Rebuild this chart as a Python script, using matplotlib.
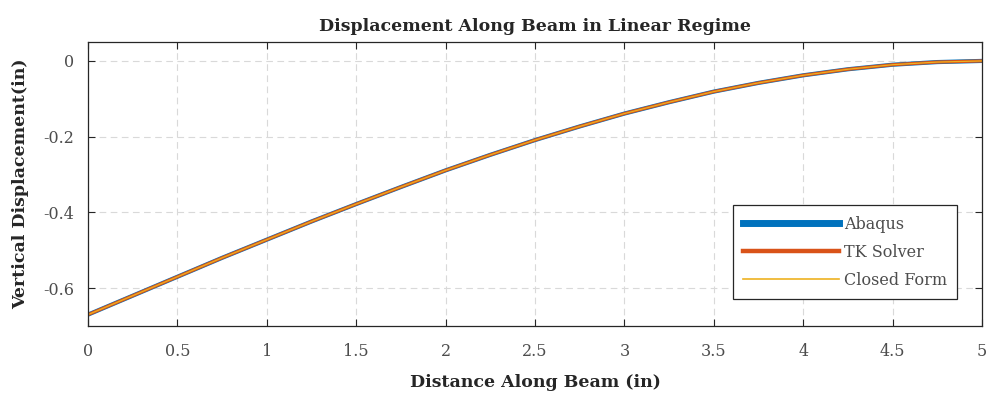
import numpy as np
import matplotlib
matplotlib.use("Agg")
import matplotlib.pyplot as plt

# distance along beam (in)
x = [0, 0.25, 0.5, 0.75, 1, 1.25, 1.5, 1.75, 2, 2.25, 2.5,
     2.75, 3, 3.25, 3.5, 3.75, 4, 4.25, 4.5, 4.75, 5]

# vertical displacement (in)
abaqus = [-0.670, -0.620, -0.570, -0.520, -0.472, -0.424, -0.378, -0.333,
          -0.289, -0.248, -0.209, -0.173, -0.139, -0.109, -0.081, -0.058,
          -0.038, -0.022, -0.010, -0.003, 0.000]
tk_solver = [-0.670, -0.620, -0.570, -0.520, -0.472, -0.424, -0.378, -0.333,
             -0.289, -0.248, -0.209, -0.173, -0.139, -0.109, -0.081, -0.058,
             -0.038, -0.022, -0.010, -0.003, 0.000]
closed_form = [-0.670, -0.620, -0.570, -0.520, -0.472, -0.424, -0.378, -0.333,
               -0.289, -0.248, -0.209, -0.173, -0.139, -0.109, -0.081, -0.058,
               -0.038, -0.022, -0.010, -0.003, 0.000]

xticks = [0, 0.5, 1, 1.5, 2, 2.5, 3, 3.5, 4, 4.5, 5]
xticklabels = ["0", "0.5", "1", "1.5", "2", "2.5", "3", "3.5", "4", "4.5", "5"]
yticks = [-0.6, -0.4, -0.2, 0]
yticklabels = ["-0.6", "-0.4", "-0.2", "0"]

plt.rcParams['font.family'] = ['DejaVu Serif']

fig = plt.figure(figsize=(9.97, 4.03), dpi=100)
ax = fig.add_axes([88/997, 1 - 326/403, (982-88)/997, (326-42)/403])

ax.plot(x, abaqus, color="#0072BD", lw=3.0, label="Abaqus")
ax.plot(x, tk_solver, color="#D95319", lw=2.3, label="TK Solver")
ax.plot(x, closed_form, color="#EDB120", lw=0.9, label="Closed Form")

ax.set_xlim(0, 5)
ax.set_ylim(-0.7, 0.05)
ax.set_xticks(xticks)
ax.set_xticklabels(xticklabels)
ax.set_yticks(yticks)
ax.set_yticklabels(yticklabels)

ax.grid(True, ls=(0, (6, 4)), color="#d9d9d9", lw=0.8)
ax.tick_params(direction="in", top=True, right=True, length=5, width=0.8,
               labelsize=11.5, colors="#262626", labelcolor="#4d4d4d")
ax.tick_params(axis="x", pad=12)
ax.tick_params(axis="y", pad=10)
for s in ax.spines.values():
    s.set_color("#262626")
    s.set_linewidth(0.9)

ax.set_title("Displacement Along Beam in Linear Regime", fontsize=12.5,
             fontweight="bold", color="#262626", pad=8)
ax.set_xlabel("Distance Along Beam (in)", fontsize=12.5, fontweight="bold",
              color="#262626", labelpad=10)
ax.set_ylabel("Vertical Displacement(in)", fontsize=12.5, fontweight="bold",
              color="#262626", labelpad=10)

leg = ax.legend(loc="lower right", bbox_to_anchor=(0.9815, 0.066),
                fancybox=False, framealpha=1, edgecolor="#262626",
                fontsize=11.5, handlelength=6.0, borderpad=0.65,
                labelspacing=0.7, handletextpad=0.3)
leg.get_frame().set_linewidth(0.9)
for t in leg.get_texts():
    t.set_color("#4d4d4d")
leg.get_lines()[0].set_linewidth(5)
leg.get_lines()[1].set_linewidth(3.2)
leg.get_lines()[2].set_linewidth(1.2)

fig.savefig("out.png", dpi=100)
